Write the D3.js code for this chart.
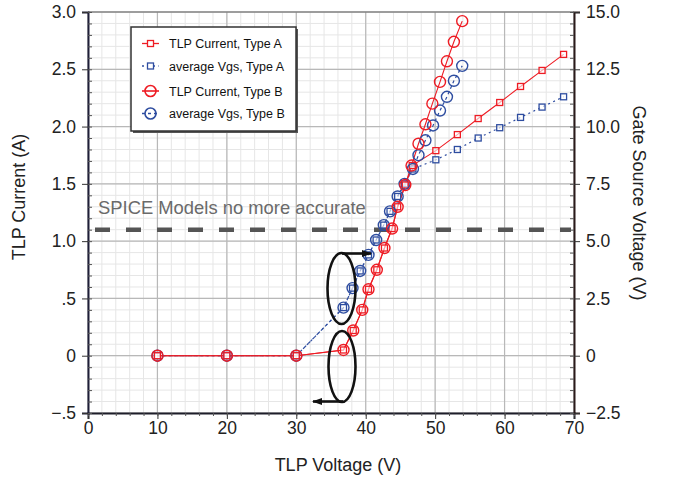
<!DOCTYPE html>
<html>
<head>
<meta charset="utf-8">
<script src="https://cdn.jsdelivr.net/npm/d3@7"></script>
<style>
  html, body { margin: 0; padding: 0; background: #fff; }
  svg { display: block; font-family: "Liberation Sans", Arial, sans-serif; }
</style>
</head>
<body>
<svg id="chart" width="673" height="478"></svg>
<script>
// TLP voltage (V) and current (A), Type A
const typeA_V = [10, 20, 30, 36.8, 38.2, 39.5, 40.4, 41.6, 42.7, 43.8, 44.6, 45.7, 46.7, 50.1, 53.2, 56.2, 59.3, 62.3, 65.4, 68.5];
const typeA_I = [0, 0, 0, 0.05, 0.22, 0.40, 0.58, 0.75, 0.94, 1.11, 1.30, 1.49, 1.66, 1.79, 1.93, 2.07, 2.21, 2.35, 2.49, 2.63];
// average gate-source voltage (V), Type A
const vgsA_V = [10, 20, 30, 36.8, 38.1, 39.2, 40.4, 41.5, 42.6, 43.5, 44.6, 45.6, 46.8, 50.1, 53.2, 56.2, 59.3, 62.3, 65.4, 68.5];
const vgsA = [0, 0, 0, 2.1, 2.95, 3.7, 4.4, 5.05, 5.7, 6.3, 6.95, 7.5, 8.15, 8.55, 9.0, 9.5, 9.95, 10.4, 10.85, 11.3];
// TLP voltage (V) and current (A), Type B
const typeB_V = [10, 20, 30, 36.8, 38.2, 39.5, 40.4, 41.6, 42.7, 43.8, 44.6, 45.7, 46.6, 47.6, 48.6, 49.6, 50.7, 51.7, 52.7, 53.9];
const typeB_I = [0, 0, 0, 0.05, 0.22, 0.40, 0.58, 0.75, 0.94, 1.11, 1.30, 1.49, 1.66, 1.85, 2.02, 2.20, 2.39, 2.57, 2.74, 2.92];
// average gate-source voltage (V), Type B
const vgsB_V = [10, 20, 30, 36.8, 38.1, 39.2, 40.4, 41.5, 42.6, 43.5, 44.6, 45.6, 46.8, 47.6, 48.6, 49.7, 50.7, 51.7, 52.7, 53.9];
const vgsB = [0, 0, 0, 2.1, 2.95, 3.7, 4.4, 5.05, 5.7, 6.3, 6.95, 7.5, 8.15, 8.75, 9.4, 10.05, 10.7, 11.3, 12.0, 12.65];

const xTicks = [0, 10, 20, 30, 40, 50, 60, 70];
const yTicks = [-0.5, 0, 0.5, 1.0, 1.5, 2.0, 2.5, 3.0];
const yTickLabels = ["\u2212.5", "0", ".5", "1.0", "1.5", "2.0", "2.5", "3.0"];
const y2Ticks = [-2.5, 0, 2.5, 5, 7.5, 10, 12.5, 15];
const y2TickLabels = ["\u22122.5", "0", "2.5", "5.0", "7.5", "10.0", "12.5", "15.0"];
const spiceLimit = 1.1;
const spiceText = "SPICE Models no more accurate";
const legendLabels = ["TLP Current, Type A", "average Vgs, Type A", "TLP Current, Type B", "average Vgs, Type B"];

const svg = d3.select("#chart");
const L = 88, R = 574, T = 12, B = 413;
const x = d3.scaleLinear().domain([0, 70]).range([L, R]);
const y = d3.scaleLinear().domain([-0.5, 3.0]).range([B, T]);
const y2 = d3.scaleLinear().domain([-2.5, 15]).range([B, T]);

const RED = "#ee1c24", BLUE = "#2e4da0";

// grid
const grid = svg.append("g");
grid.selectAll(".vmin").data(d3.range(0, 70.01, 2)).join("line")
  .attr("x1", d => x(d)).attr("x2", d => x(d)).attr("y1", T).attr("y2", B)
  .attr("stroke", "#e6e6e6").attr("stroke-width", 1);
grid.selectAll(".hmin").data(d3.range(-0.5, 3.001, 0.1)).join("line")
  .attr("x1", L).attr("x2", R).attr("y1", d => y(d)).attr("y2", d => y(d))
  .attr("stroke", "#e6e6e6").attr("stroke-width", 1);
grid.selectAll(".vmaj").data(xTicks).join("line")
  .attr("x1", d => x(d)).attr("x2", d => x(d)).attr("y1", T).attr("y2", B)
  .attr("stroke", "#b8b8b8").attr("stroke-width", 1.2);
grid.selectAll(".hmaj").data(yTicks).join("line")
  .attr("x1", L).attr("x2", R).attr("y1", d => y(d)).attr("y2", d => y(d))
  .attr("stroke", "#b8b8b8").attr("stroke-width", 1.2);
svg.append("line").attr("x1", L).attr("x2", R).attr("y1", T).attr("y2", T)
  .attr("stroke", "#666").attr("stroke-width", 1.2);

// SPICE validity limit
svg.append("line").attr("x1", L + 7).attr("x2", R - 3)
  .attr("y1", y(spiceLimit)).attr("y2", y(spiceLimit))
  .attr("stroke", "#555").attr("stroke-width", 4.5).attr("stroke-dasharray", "15,16");
svg.append("text").attr("x", 98).attr("y", 214).attr("font-size", 18.4)
  .attr("fill", "#6a6a6a").text(spiceText);

// axes
function styleAxis(g) {
  g.selectAll("text").attr("font-size", 17.5).attr("fill", "#222")
    .attr("font-family", "'Liberation Sans', Arial, sans-serif");
  g.selectAll("line").attr("stroke", "#333");
}
const xAxis = svg.append("g").attr("transform", `translate(0,${B})`)
  .call(d3.axisBottom(x).tickValues(xTicks).tickSize(6).tickPadding(3).tickFormat(d3.format("d")));
xAxis.select(".domain").attr("stroke", "#1e1e2a").attr("stroke-width", 2);
styleAxis(xAxis);
svg.append("g").attr("transform", `translate(0,${B})`)
  .call(d3.axisBottom(x).tickValues(d3.range(0, 70.01, 2)).tickSize(3).tickFormat(""))
  .call(g => g.select(".domain").remove())
  .selectAll("line").attr("stroke", "#555");

const yAxis = svg.append("g").attr("transform", `translate(${L},0)`)
  .call(d3.axisLeft(y).tickValues(yTicks).tickSize(6).tickPadding(6)
    .tickFormat((d, i) => yTickLabels[i]));
yAxis.select(".domain").attr("stroke", "#1e1e38").attr("stroke-width", 2);
styleAxis(yAxis);
svg.append("g").attr("transform", `translate(${L},0)`)
  .call(d3.axisRight(y).tickValues(d3.range(-0.5, 3.001, 0.1)).tickSize(4).tickFormat(""))
  .call(g => g.select(".domain").remove())
  .selectAll("line").attr("stroke", "#555");

const y2Axis = svg.append("g").attr("transform", `translate(${R},0)`)
  .call(d3.axisRight(y2).tickValues(y2Ticks).tickSize(6).tickPadding(6)
    .tickFormat((d, i) => y2TickLabels[i]));
y2Axis.select(".domain").attr("stroke", "#2a1a1a").attr("stroke-width", 2);
styleAxis(y2Axis);
svg.append("g").attr("transform", `translate(${R},0)`)
  .call(d3.axisLeft(y2).tickValues(d3.range(-2.5, 15.01, 0.5)).tickSize(4).tickFormat(""))
  .call(g => g.select(".domain").remove())
  .selectAll("line").attr("stroke", "#555");

// axis titles
svg.append("text").attr("x", 338).attr("y", 471).attr("text-anchor", "middle")
  .attr("font-size", 18).attr("fill", "#222").text("TLP Voltage (V)");
svg.append("text").attr("transform", "translate(25,197) rotate(-90)").attr("text-anchor", "middle")
  .attr("font-size", 18).attr("fill", "#222").text("TLP Current (A)");
svg.append("text").attr("transform", "translate(633,203) rotate(90)").attr("text-anchor", "middle")
  .attr("font-size", 18).attr("fill", "#222").text("Gate Source Voltage (V)");

// series
const pts = (xs, ys, sy) => xs.map((v, i) => [x(v), sy(ys[i])]);
const line = d3.line();
const sA = pts(typeA_V, typeA_I, y);
const vA = pts(vgsA_V, vgsA, y2);
const sB = pts(typeB_V, typeB_I, y);
const vB = pts(vgsB_V, vgsB, y2);

svg.append("path").attr("d", line(vB)).attr("fill", "none").attr("stroke", BLUE)
  .attr("stroke-width", 1.2).attr("stroke-dasharray", "3,3");
svg.append("path").attr("d", line(vA)).attr("fill", "none").attr("stroke", BLUE)
  .attr("stroke-width", 1.2).attr("stroke-dasharray", "2,3.5");
svg.append("path").attr("d", line(sB)).attr("fill", "none").attr("stroke", RED).attr("stroke-width", 1.1);
svg.append("path").attr("d", line(sA)).attr("fill", "none").attr("stroke", RED).attr("stroke-width", 1.1);

function squares(data, color) {
  svg.append("g").selectAll("rect").data(data).join("rect")
    .attr("x", d => d[0] - 3).attr("y", d => d[1] - 3).attr("width", 6).attr("height", 6)
    .attr("fill", "#fff").attr("fill-opacity", 0.6).attr("stroke", color).attr("stroke-width", 1.3);
}
function circles(data, color) {
  svg.append("g").selectAll("circle").data(data).join("circle")
    .attr("cx", d => d[0]).attr("cy", d => d[1]).attr("r", 5.5)
    .attr("fill", "none").attr("stroke", color).attr("stroke-width", 1.4);
}
squares(vA, BLUE);
squares(sA, RED);
circles(vB, BLUE);
circles(sB, RED);

// annotation ellipses with arrows pointing to each axis
svg.append("defs").append("marker").attr("id", "arrow").attr("viewBox", "0 0 10 10")
  .attr("refX", 9).attr("refY", 5).attr("markerWidth", 4).attr("markerHeight", 4)
  .attr("markerUnits", "strokeWidth").attr("orient", "auto")
  .append("path").attr("d", "M0,1.5 L10,5 L0,8.5 Z").attr("fill", "#111");
const ann = svg.append("g").attr("fill", "none").attr("stroke", "#111").attr("stroke-width", 2.6);
ann.append("ellipse").attr("cx", 341.5).attr("cy", 288.5).attr("rx", 14).attr("ry", 35.5);
ann.append("ellipse").attr("cx", 342).attr("cy", 366.5).attr("rx", 13.5).attr("ry", 35.5);
ann.append("line").attr("x1", 342).attr("y1", 253.5).attr("x2", 371).attr("y2", 253.5)
  .attr("marker-end", "url(#arrow)");
ann.append("line").attr("x1", 343).attr("y1", 401.5).attr("x2", 313).attr("y2", 401.5)
  .attr("marker-end", "url(#arrow)");

// legend
const lg = svg.append("g");
lg.append("rect").attr("x", 133).attr("y", 29).attr("width", 165).attr("height", 104).attr("fill", "#555");
lg.append("rect").attr("x", 131).attr("y", 27).attr("width", 165).attr("height", 104)
  .attr("fill", "#fff").attr("stroke", "#333").attr("stroke-width", 1.5);
const rowsY = [43.5, 66, 91, 113.5];
const styles = [
  { c: RED, dash: null, shape: "sq" },
  { c: BLUE, dash: "2,3.5", shape: "sq" },
  { c: RED, dash: null, shape: "ci" },
  { c: BLUE, dash: "3,3", shape: "ci" }
];
legendLabels.forEach((lab, i) => {
  const s = styles[i], cy = rowsY[i];
  lg.append("line").attr("x1", 142).attr("x2", 159).attr("y1", cy).attr("y2", cy)
    .attr("stroke", s.c).attr("stroke-width", s.shape === "ci" ? 1.6 : 1.3)
    .attr("stroke-dasharray", s.dash);
  if (s.shape === "sq") {
    lg.append("rect").attr("x", 147.5).attr("y", cy - 3).attr("width", 6).attr("height", 6)
      .attr("fill", "#fff").attr("stroke", s.c).attr("stroke-width", 1.3);
  } else {
    lg.append("circle").attr("cx", 150.5).attr("cy", cy).attr("r", 5.5)
      .attr("fill", "none").attr("stroke", s.c).attr("stroke-width", 1.6);
  }
  lg.append("text").attr("x", 169).attr("y", cy + 4.5).attr("font-size", 12.5)
    .attr("fill", "#111").text(lab);
});
</script>
</body>
</html>
